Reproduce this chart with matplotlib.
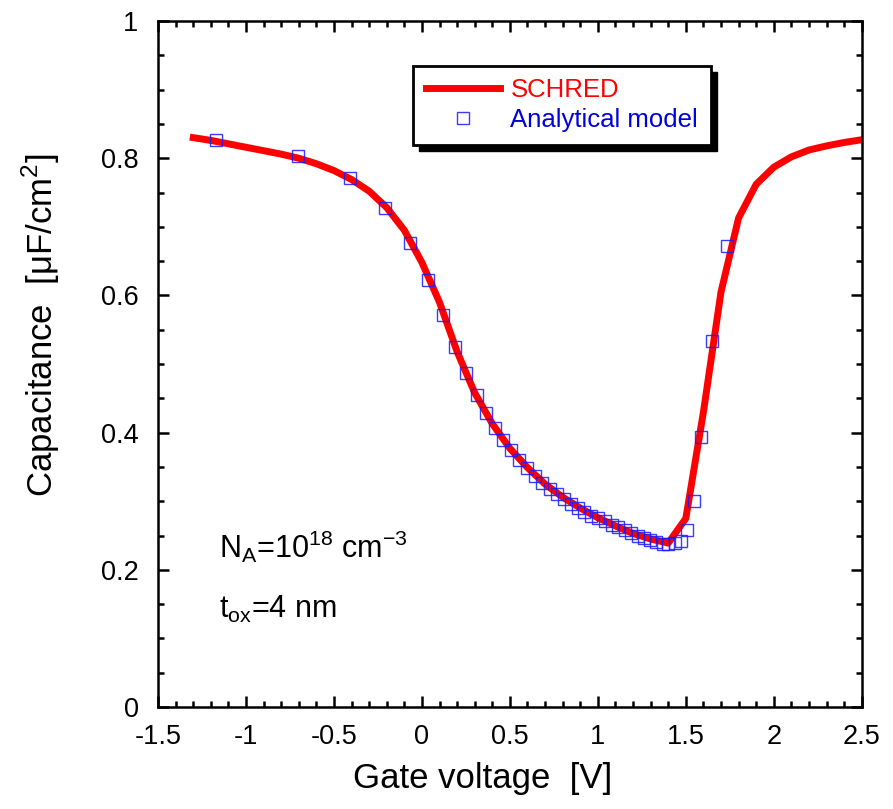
import matplotlib
matplotlib.use("Agg")
import matplotlib.pyplot as plt
from matplotlib.patches import Rectangle
from matplotlib.ticker import MultipleLocator, FuncFormatter

plt.rcParams['font.family'] = ['Liberation Sans', 'DejaVu Sans']
plt.rcParams['mathtext.fontset'] = 'custom'
plt.rcParams['mathtext.rm'] = 'Liberation Sans'
plt.rcParams['axes.unicode_minus'] = False

# SCHRED curve (0.1 V steps)
v_schred = [-1.3, -1.2, -1.1, -1.0, -0.9, -0.8, -0.7, -0.6, -0.5, -0.4, -0.3, -0.2, -0.1,
            0.0, 0.1, 0.2, 0.3, 0.4, 0.5, 0.6, 0.7, 0.8, 0.9, 1.0, 1.1, 1.2, 1.3, 1.4,
            1.5, 1.6, 1.7, 1.8, 1.9, 2.0, 2.1, 2.2, 2.3, 2.4, 2.5]
c_schred = [0.830, 0.826, 0.821, 0.816, 0.811, 0.806, 0.800, 0.792, 0.782, 0.769, 0.752, 0.728, 0.695,
            0.648, 0.590, 0.518, 0.458, 0.413, 0.377, 0.349, 0.325, 0.306, 0.290, 0.276, 0.264, 0.253, 0.245, 0.239,
            0.275, 0.430, 0.605, 0.713, 0.762, 0.787, 0.802, 0.812, 0.818, 0.823, 0.827]

# analytical model points
v_model = [-1.169, -0.705, -0.411, -0.210, -0.066, 0.036, 0.119, 0.190, 0.252, 0.311, 0.365, 0.415,
           0.462, 0.508, 0.553, 0.597, 0.640, 0.684, 0.726, 0.765, 0.805, 0.845, 0.885, 0.924, 0.962,
           1.002, 1.040, 1.078, 1.115, 1.153, 1.189, 1.227, 1.263, 1.299, 1.333, 1.368, 1.400, 1.438,
           1.472, 1.506, 1.547, 1.588, 1.648, 1.735]
c_model = [0.826, 0.803, 0.771, 0.728, 0.677, 0.623, 0.571, 0.525, 0.487, 0.455, 0.429, 0.407,
           0.389, 0.374, 0.360, 0.349, 0.337, 0.327, 0.318, 0.310, 0.303, 0.296, 0.290, 0.284, 0.279,
           0.275, 0.271, 0.266, 0.262, 0.258, 0.254, 0.250, 0.247, 0.244, 0.241, 0.238, 0.237, 0.239,
           0.242, 0.258, 0.301, 0.393, 0.533, 0.672]

fig = plt.figure(figsize=(8.93, 8.09), dpi=100)
ax = fig.add_axes([0.177, 0.126, 0.788, 0.848])

ax.plot(v_schred, c_schred, color='#ff0000', lw=5, label='SCHRED', zorder=2)
ax.plot(v_model, c_model, ls='none', marker='s', ms=9, mfc='none', mec='#1a1aff',
        mew=1.0, alpha=0.85, label='Analytical model', zorder=3)

ax.set_xlim(-1.5, 2.5)
ax.set_ylim(0, 1)
ax.xaxis.set_major_locator(MultipleLocator(0.5))
ax.xaxis.set_minor_locator(MultipleLocator(0.1))
ax.yaxis.set_major_locator(MultipleLocator(0.2))
ax.yaxis.set_minor_locator(MultipleLocator(0.05))
fmt = FuncFormatter(lambda v, p: f'{round(v, 2):g}')
ax.xaxis.set_major_formatter(fmt)
ax.yaxis.set_major_formatter(fmt)
ax.tick_params(which='both', direction='in', top=True, right=True, width=1.8, labelsize=19.5)
ax.tick_params(which='major', length=8)
ax.tick_params(which='minor', length=4)
ax.tick_params(axis='x', which='major', pad=12)
ax.tick_params(axis='y', which='major', pad=14)
for s in ax.spines.values():
    s.set_linewidth(1.8)

ax.set_xlabel('Gate voltage  [V]', fontsize=25)
ax.set_ylabel('Capacitance  [\u03bcF/cm$^{\\mathregular{2}}$]', fontsize=25)
ax.xaxis.set_label_coords(0.461, -0.08)
ax.yaxis.set_label_coords(-0.137, 0.557)

ax.text(0.087, 0.218, r'N$_{\mathregular{A}}$=10$^{\mathregular{18}}$ cm$^{\mathregular{-3}}$',
        transform=ax.transAxes, fontsize=22)
ax.text(0.087, 0.13, r't$_{\mathregular{ox}}$=4 nm', transform=ax.transAxes, fontsize=22)

leg = ax.legend(loc='upper left', bbox_to_anchor=(0.362, 0.935), fontsize=18.5, frameon=True,
                fancybox=False, edgecolor='black', framealpha=1, handlelength=2.9,
                handletextpad=0.4, borderpad=0.5, labelspacing=0.22, borderaxespad=0)
leg.get_frame().set_linewidth(2)
for t, c in zip(leg.get_texts(), ['#ff0000', '#0000dd']):
    t.set_color(c)

# hard black drop shadow behind the legend box
fig.canvas.draw()
bb = leg.get_frame().get_window_extent()
ax.add_artist(Rectangle((bb.x0 + 6, bb.y0 - 6), bb.width, bb.height, transform=None,
                        facecolor='black', edgecolor='black', zorder=4.9, clip_on=False))

fig.savefig('out.png', dpi=100)
